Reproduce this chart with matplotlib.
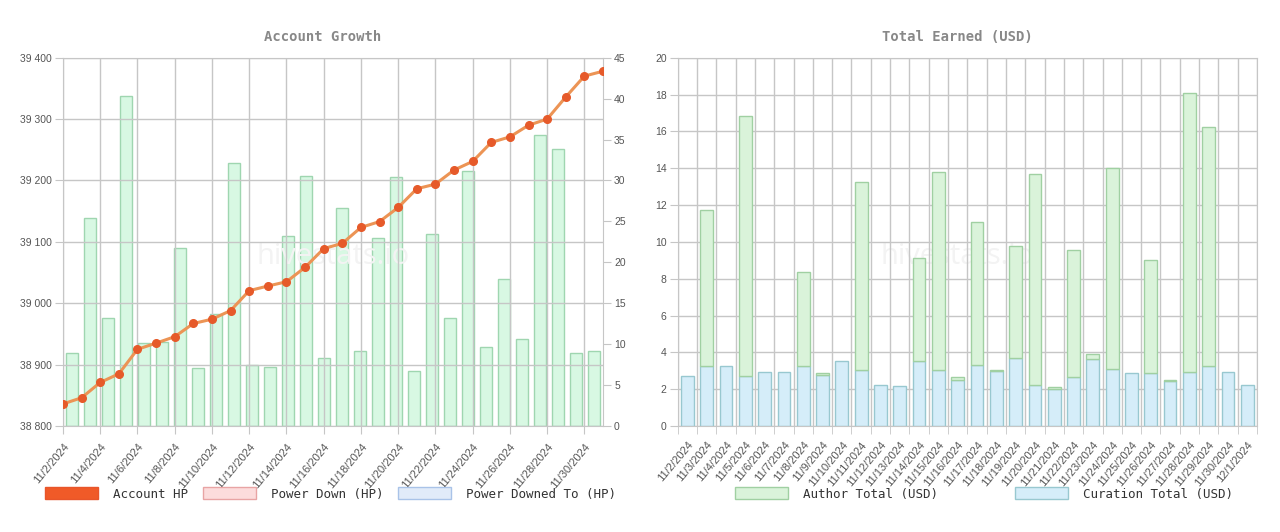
import numpy as np
import matplotlib
matplotlib.use("Agg")
import matplotlib.pyplot as plt
from matplotlib.patches import Patch
from matplotlib.ticker import FuncFormatter, FixedLocator

# --- dados ---
datas = ['11/2/2024', '11/3/2024', '11/4/2024', '11/5/2024', '11/6/2024', '11/7/2024',
         '11/8/2024', '11/9/2024', '11/10/2024', '11/11/2024', '11/12/2024', '11/13/2024',
         '11/14/2024', '11/15/2024', '11/16/2024', '11/17/2024', '11/18/2024', '11/19/2024',
         '11/20/2024', '11/21/2024', '11/22/2024', '11/23/2024', '11/24/2024', '11/25/2024',
         '11/26/2024', '11/27/2024', '11/28/2024', '11/29/2024', '11/30/2024', '12/1/2024']

account_hp = [38836, 38846, 38871, 38885, 38925, 38935, 38945.5, 38967, 38974, 38988,
              39020.5, 39028, 39035, 39058.5, 39089, 39097.5, 39123.5, 39133, 39156, 39186.5,
              39194, 39217, 39231, 39262, 39271, 39290, 39300, 39336, 39370, 39378]

hp_diario = [8.9, 25.4, 13.2, 40.3, 10.1, 10.3, 21.7, 7.1, 13.7, 32.1,
             7.5, 7.2, 23.2, 30.5, 8.3, 26.6, 9.2, 23.0, 30.4, 6.7,
             23.4, 13.2, 31.2, 9.7, 18.0, 10.6, 35.5, 33.8, 8.9, 9.2]

curation_usd = [2.70, 3.28, 3.28, 2.71, 2.91, 2.91, 3.24, 2.75, 3.55, 3.02,
                2.23, 2.19, 3.51, 3.04, 2.52, 3.29, 2.97, 3.71, 2.24, 2.03,
                2.66, 3.64, 3.08, 2.86, 2.90, 2.44, 2.93, 3.28, 2.93, 2.24]

author_usd = [0, 8.47, 0, 14.10, 0, 0, 5.14, 0.13, 0, 10.25,
              0, 0, 5.59, 10.77, 0.14, 7.77, 0.05, 6.08, 11.46, 0.11,
              6.91, 0.25, 10.91, 0, 6.10, 0.08, 15.17, 12.97, 0, 0]

W, H = 1280, 532
fig = plt.figure(figsize=(W / 100, H / 100), dpi=100)
fig.patch.set_facecolor('white')

def rect(x0, y0, x1, y1):
    return [x0 / W, 1 - y1 / H, (x1 - x0) / W, (y1 - y0) / H]

grid_cor = '#c6c6c6'
tick_cor = '#555555'
mono = 'DejaVu Sans Mono'
sans = 'Liberation Sans'

n = len(datas)
idx = np.arange(n)

# ================= Account Growth =================
r_esq = rect(63, 57.7, 603, 426)
ax_bar = fig.add_axes(r_esq)
ax_bar.bar(idx + 0.5, hp_diario, width=0.67, color='#d8f8e3', edgecolor='#9fd6b0',
           linewidth=1, zorder=2)
ax_bar.set_xlim(0, n)
ax_bar.set_ylim(0, 45)
ax_bar.yaxis.tick_right()
ax_bar.set_yticks(range(0, 46, 5))
ax_bar.set_xticks([])
ax_bar.tick_params(axis='y', length=6, color=grid_cor, labelsize=7.5, labelcolor=tick_cor, pad=2)
for s in ax_bar.spines.values():
    s.set_visible(False)

ax_hp = fig.add_axes(r_esq, facecolor='none')
ax_hp.plot(idx, account_hp, color='#ec9455', linewidth=2.2, zorder=3,
           marker='o', markersize=5.5, markerfacecolor='#e65a2a', markeredgecolor='#e65a2a')
ax_hp.set_xlim(0, n - 1)
ax_hp.set_ylim(38800, 39400)
ax_hp.set_yticks(range(38800, 39401, 100))
ax_hp.yaxis.set_major_formatter(FuncFormatter(lambda v, p: f'{int(v):,}'.replace(',', ' ')))
ax_hp.set_xticks(idx[::2])
ax_hp.set_xticklabels(datas[::2], rotation=50, ha='right', va='top', rotation_mode='anchor')
ax_hp.grid(True, color=grid_cor, linewidth=1)
ax_hp.tick_params(length=6, color=grid_cor, labelsize=7.5, labelcolor=tick_cor, pad=2)
ax_hp.tick_params(axis='x', pad=5)
for lab in ax_hp.get_xticklabels():
    lab.set_fontsize(8)
for s in ax_hp.spines.values():
    s.set_color(grid_cor)
for lab in ax_hp.get_xticklabels() + ax_hp.get_yticklabels() + ax_bar.get_yticklabels():
    lab.set_fontfamily(sans)
ax_hp.text(0.5, 0.46, 'hivestats.io', transform=ax_hp.transAxes, ha='center', va='center',
           fontsize=21, color='#f3f3f3', family='Open Sans', zorder=0)

fig.text(323 / W, 1 - 37 / H, 'Account Growth', ha='center', va='center',
         fontsize=10, fontweight='bold', color='#888888', family=mono)

leg1 = [Patch(facecolor='#f05a28', edgecolor='#e8552a', label='Account HP'),
        Patch(facecolor='#fcdcdc', edgecolor='#e8a4a4', label='Power Down (HP)'),
        Patch(facecolor='#e1ebf9', edgecolor='#a9c3e8', label='Power Downed To (HP)')]
fig.legend(handles=leg1, loc='center', bbox_to_anchor=(330.5 / W, 1 - 494 / H), ncol=3,
           frameon=False, prop={'family': mono, 'size': 9}, labelcolor='#333333',
           handlelength=4.25, handleheight=1.05, handletextpad=1.2, columnspacing=1.15)

# ================= Total Earned (USD) =================
ax_r = fig.add_axes(rect(677.7, 57.7, 1257, 426))
ax_r.bar(idx, curation_usd, width=0.66, color='#d5edf9', edgecolor='#98c8d0',
         linewidth=1, zorder=2)
author = np.array(author_usd)
mask = author > 0
ax_r.bar(idx[mask], author[mask], bottom=np.array(curation_usd)[mask], width=0.66,
         color='#daf3da', edgecolor='#a0d0a2', linewidth=1, zorder=2)
ax_r.set_xlim(-0.5, n - 0.5)
ax_r.set_ylim(0, 20)
ax_r.set_yticks(range(0, 21, 2))
ax_r.set_xticks(idx)
ax_r.set_xticklabels(datas, rotation=50, ha='right', va='top', rotation_mode='anchor')
ax_r.xaxis.set_minor_locator(FixedLocator(np.arange(-0.5, n, 1)))
ax_r.grid(True, axis='y', color=grid_cor, linewidth=1, zorder=1)
ax_r.grid(True, axis='x', which='minor', color=grid_cor, linewidth=1, zorder=1)
ax_r.tick_params(axis='x', which='major', length=0, pad=10)
ax_r.tick_params(axis='x', which='minor', length=6, color=grid_cor)
ax_r.tick_params(axis='y', length=6, color=grid_cor, pad=2)
ax_r.tick_params(labelsize=8, labelcolor=tick_cor)
for lab in ax_r.get_yticklabels():
    lab.set_fontsize(7.5)
for lab in ax_r.get_xticklabels() + ax_r.get_yticklabels():
    lab.set_fontfamily(sans)
for s in ax_r.spines.values():
    s.set_color(grid_cor)
ax_r.text(957 / W, 1 - 257 / H, 'hivestats.io', transform=fig.transFigure, ha='center',
          va='center', fontsize=21, color='#f3f3f3', family='Open Sans', zorder=0)

fig.text(957 / W, 1 - 37 / H, 'Total Earned (USD)', ha='center', va='center',
         fontsize=10, fontweight='bold', color='#888888', family=mono)

leg2 = [Patch(facecolor='#daf3da', edgecolor='#a0d0a2', label='Author Total (USD)'),
        Patch(facecolor='#d5edf9', edgecolor='#98c8d0', label='Curation Total (USD)')]
fig.legend(handles=leg2, loc='center', bbox_to_anchor=(984 / W, 1 - 494 / H), ncol=2,
           frameon=False, prop={'family': mono, 'size': 9}, labelcolor='#333333',
           handlelength=4.25, handleheight=1.05, handletextpad=1.2, columnspacing=6.2)

fig.savefig('out.png', dpi=100)
